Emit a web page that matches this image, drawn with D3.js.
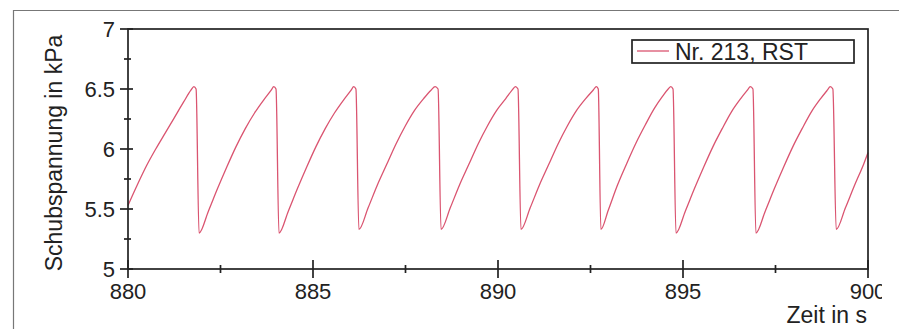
<!DOCTYPE html>
<html><head><meta charset="utf-8">
<script src="https://cdn.jsdelivr.net/npm/d3@7"></script>
<style>html,body{margin:0;padding:0;background:#fff;}svg{display:block;}</style>
</head><body>
<script>
// time in s
const times = [
 880.00,880.25,880.50,880.75,881.00,881.25,881.50,881.70,881.78,881.84,
 881.92,882.17,882.42,882.67,882.92,883.17,883.42,883.67,883.87,883.94,884.00,
 884.08,884.33,884.58,884.83,885.08,885.33,885.58,885.83,886.03,886.10,886.16,
 886.24,886.49,886.74,886.99,887.24,887.49,887.74,887.99,888.19,888.30,888.38,
 888.46,888.71,888.96,889.21,889.46,889.71,889.96,890.21,890.38,890.47,890.54,
 890.62,890.87,891.12,891.37,891.62,891.87,892.12,892.37,892.57,892.66,892.71,
 892.78,892.98,893.23,893.48,893.73,893.98,894.23,894.45,894.60,894.67,894.73,
 894.81,895.06,895.31,895.56,895.81,896.06,896.31,896.56,896.74,896.82,896.89,
 896.97,897.22,897.47,897.72,897.97,898.22,898.47,898.72,898.90,898.98,899.05,
 899.14,899.39,899.64,899.89,900.00
];
// shear stress in kPa
const stress = [
 5.53,5.70,5.86,6.00,6.13,6.26,6.39,6.49,6.52,6.50,
 5.30,5.48,5.67,5.85,6.02,6.17,6.30,6.41,6.49,6.52,6.50,
 5.30,5.48,5.67,5.85,6.02,6.17,6.30,6.41,6.49,6.52,6.50,
 5.33,5.51,5.70,5.87,6.04,6.19,6.32,6.42,6.49,6.52,6.50,
 5.33,5.51,5.70,5.87,6.04,6.19,6.32,6.42,6.49,6.52,6.50,
 5.33,5.51,5.70,5.87,6.04,6.19,6.32,6.42,6.49,6.52,6.50,
 5.33,5.49,5.70,5.88,6.05,6.20,6.34,6.44,6.50,6.52,6.50,
 5.30,5.48,5.67,5.85,6.02,6.17,6.31,6.42,6.49,6.52,6.50,
 5.30,5.48,5.67,5.85,6.02,6.17,6.31,6.42,6.49,6.52,6.50,
 5.33,5.51,5.70,5.88,5.97
];
const xMajorTicks = [880, 885, 890, 895, 900];
const xMinorTicks = [882.5, 887.5, 892.5, 897.5];
const yMajorTicks = [5, 5.5, 6, 6.5, 7];
const yMinorTicks = [5.25, 5.75, 6.25, 6.75];
const seriesName = "Nr. 213, RST";
const xTitle = "Zeit in s";
const yTitle = "Schubspannung in kPa";

const W = 907, H = 329;
const L = 128, R = 868, T = 29, B = 269;
const svg = d3.select("body").append("svg").attr("width", W).attr("height", H);
svg.append("defs").append("clipPath").attr("id","labelclip")
  .append("rect").attr("x",0).attr("y",0).attr("width",882).attr("height",H);
const g = svg.append("g");

// outer frame (left and top edges)
g.append("path").attr("d", `M13.5,${H} V10.5 H899`)
  .attr("fill","none").attr("stroke","#777").attr("stroke-width",1.2);

const x = d3.scaleLinear().domain([880, 900]).range([L, R]);
const y = d3.scaleLinear().domain([5, 7]).range([B, T]);
const font = "'Liberation Sans', Arial, sans-serif";

// data line
const data = times.map((t, i) => [t, stress[i]]);
g.append("path").datum(data)
  .attr("fill","none").attr("stroke","#da5470").attr("stroke-width",1.3)
  .attr("d", d3.line().x(d => x(d[0])).y(d => y(d[1])).curve(d3.curveMonotoneX));

// plot frame
g.append("rect").attr("x",L).attr("y",T).attr("width",R-L).attr("height",B-T)
  .attr("fill","none").attr("stroke","#222").attr("stroke-width",1.7);

// x axis ticks
const xAx = g.append("g").attr("stroke","#222");
xAx.selectAll("line.maj").data(xMajorTicks).join("line")
  .attr("x1",d=>x(d)).attr("x2",d=>x(d)).attr("y1",B-9).attr("y2",B+9).attr("stroke-width",1.7);
xAx.selectAll("line.min").data(xMinorTicks).join("line").attr("class","min")
  .attr("x1",d=>x(d)).attr("x2",d=>x(d)).attr("y1",B-4).attr("y2",B+4).attr("stroke-width",1.7);
g.append("g").attr("clip-path","url(#labelclip)").selectAll("text").data(xMajorTicks).join("text")
  .attr("x",d=>x(d)).attr("y",B+30).attr("text-anchor","middle")
  .attr("font-family",font).attr("font-size",22).attr("fill","#222").text(d=>d);

// y axis ticks
const yAx = g.append("g").attr("stroke","#222");
yAx.selectAll("line.maj").data(yMajorTicks).join("line")
  .attr("x1",L-8).attr("x2",L+5).attr("y1",d=>y(d)).attr("y2",d=>y(d)).attr("stroke-width",1.7);
yAx.selectAll("line.min").data(yMinorTicks).join("line").attr("class","min")
  .attr("x1",L-4).attr("x2",L+3).attr("y1",d=>y(d)).attr("y2",d=>y(d)).attr("stroke-width",1.7);
g.append("g").selectAll("text").data(yMajorTicks).join("text")
  .attr("x",L-13).attr("y",d=>y(d)+8).attr("text-anchor","end")
  .attr("font-family",font).attr("font-size",22).attr("fill","#222").text(d=>d);

// titles
g.append("text").attr("transform",`translate(62,${(T+B)/2+4}) rotate(-90)`)
  .attr("text-anchor","middle").attr("font-family",font).attr("font-size",23).attr("fill","#222")
  .text(yTitle);
g.append("text").attr("x",867).attr("y",323).attr("text-anchor","end")
  .attr("font-family",font).attr("font-size",23).attr("fill","#222").text(xTitle);

// legend
const lg = g.append("g");
lg.append("rect").attr("x",632).attr("y",40).attr("width",222).attr("height",23)
  .attr("fill","#fff").attr("stroke","#222").attr("stroke-width",1.7);
lg.append("line").attr("x1",637).attr("x2",669).attr("y1",51).attr("y2",51)
  .attr("stroke","#da5470").attr("stroke-width",1.3);
lg.append("text").attr("x",675).attr("y",60).attr("font-family",font).attr("font-size",23)
  .attr("fill","#222").text(seriesName);
</script>
</body></html>
